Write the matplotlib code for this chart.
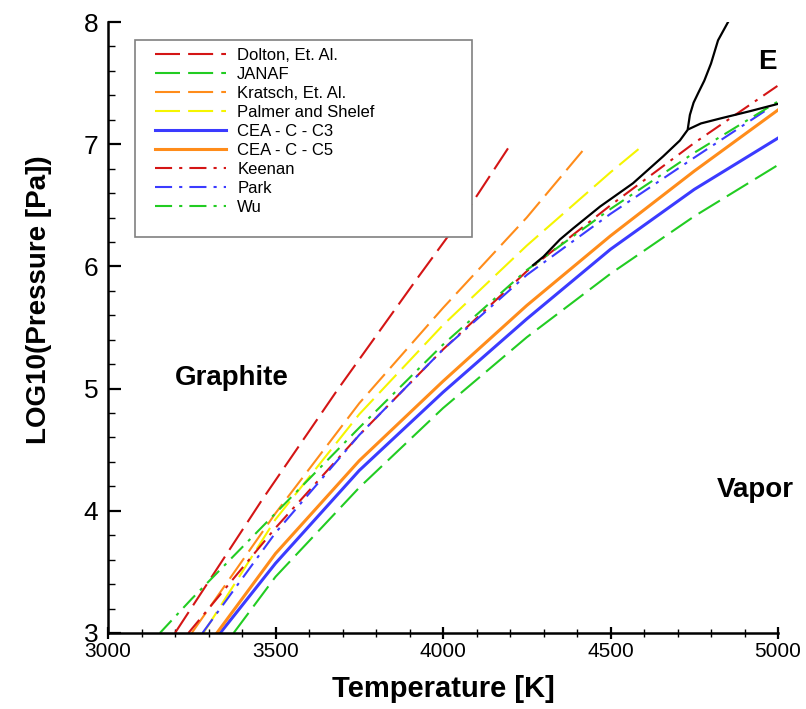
import numpy as np
import matplotlib
matplotlib.use('Agg')
from matplotlib import pyplot as plt
from matplotlib.patches import Rectangle

plt.rcParams['font.family'] = ['Liberation Sans', 'DejaVu Sans']

# vapor pressure curves, log10(P [Pa]) vs T [K]
dolton_T = [3200, 3460, 3685, 3920, 4080, 4195]
dolton_p = [3.0, 4.09, 4.99, 5.89, 6.49, 6.97]

janaf_T = [3375, 3500, 3750, 4000, 4250, 4500, 4750, 5000]
janaf_p = [3.0, 3.46, 4.19, 4.84, 5.42, 5.94, 6.41, 6.83]

kratsch_T = [3250, 3500, 3750, 4000, 4250, 4418]
kratsch_p = [3.0, 3.98, 4.88, 5.66, 6.40, 6.95]

palmer_T = [3285, 3500, 3750, 4000, 4250, 4500, 4597]
palmer_p = [3.0, 3.93, 4.79, 5.52, 6.17, 6.77, 6.99]

cea3_T = [3335, 3500, 3750, 4000, 4250, 4500, 4750, 5000]
cea3_p = [3.0, 3.57, 4.33, 4.97, 5.57, 6.14, 6.63, 7.05]

cea5_T = [3325, 3500, 3750, 4000, 4250, 4500, 4750, 5000]
cea5_p = [3.0, 3.65, 4.41, 5.06, 5.68, 6.25, 6.78, 7.28]

keenan_T = [3240, 3500, 3750, 4000, 4250, 4500, 4750, 5000]
keenan_p = [3.0, 3.86, 4.62, 5.32, 5.96, 6.50, 7.01, 7.48]

park_T = [3282, 3500, 3750, 4000, 4250, 4500, 4750, 4960]
park_p = [3.0, 3.82, 4.62, 5.32, 5.93, 6.43, 6.89, 7.27]

wu_T = [3155, 3250, 3500, 3750, 4000, 4250, 4500, 4750, 5000]
wu_p = [3.0, 3.28, 3.98, 4.68, 5.36, 5.97, 6.47, 6.93, 7.35]

# phase boundary (black) and its upper branch
bound_T = [4269, 4300, 4349, 4388, 4469, 4567, 4657, 4707, 4731, 4770, 4827, 4916, 5000]
bound_p = [6.01, 6.08, 6.22, 6.31, 6.49, 6.68, 6.90, 7.03, 7.12, 7.17, 7.21, 7.27, 7.33]
branch_T = [4731, 4737, 4748, 4762, 4780, 4800, 4821, 4851]
branch_p = [7.13, 7.24, 7.34, 7.42, 7.52, 7.66, 7.85, 8.0]

dash = (12, 3.9)
dashdot = (8.2, 3.4, 1.5, 3.4)

series = [
    ('Dolton, Et. Al.', dolton_T, dolton_p, '#d41515', dash),
    ('JANAF', janaf_T, janaf_p, '#22cc22', dash),
    ('Kratsch, Et. Al.', kratsch_T, kratsch_p, '#ff8c1a', dash),
    ('Palmer and Shelef', palmer_T, palmer_p, '#f5f500', dash),
    ('CEA - C - C3', cea3_T, cea3_p, '#3b3bff', None),
    ('CEA - C - C5', cea5_T, cea5_p, '#ff8c1a', None),
    ('Keenan', keenan_T, keenan_p, '#d41515', dashdot),
    ('Park', park_T, park_p, '#3b3bff', dashdot),
    ('Wu', wu_T, wu_p, '#22cc22', dashdot),
]

fig = plt.figure(figsize=(8.06, 7.09), dpi=100)
ax = fig.add_axes([108/806, 1-633/709, 670/806, 611/709])

handles = []
for label, T, p, color, pattern in series:
    if pattern is None:
        ln, = ax.plot(T, p, color=color, lw=2.2, label=label)
    else:
        ln, = ax.plot(T, p, color=color, lw=1.5, label=label)
        ln.set_dashes(pattern)
    handles.append(ln)

ax.plot(bound_T, bound_p, color='black', lw=1.6)
ax.plot(branch_T, branch_p, color='black', lw=1.6)

ax.set_xlim(3000, 5000)
ax.set_ylim(3, 8)
ax.set_xticks([3000, 3500, 4000, 4500, 5000])
ax.set_yticks([3, 4, 5, 6, 7, 8])
ax.set_xticks(np.arange(3000, 5001, 100), minor=True)
ax.set_yticks(np.arange(3, 8.01, 0.2), minor=True)

for side in ['top', 'right']:
    ax.spines[side].set_visible(False)
for side in ['left', 'bottom']:
    ax.spines[side].set_linewidth(1.8)

ax.tick_params(axis='y', which='major', direction='in', length=9, width=1.6, labelsize=19, pad=7)
ax.tick_params(axis='y', which='minor', direction='in', length=5, width=1.0)
ax.tick_params(axis='x', which='major', direction='inout', length=9, width=1.6, labelsize=15, pad=2)
ax.tick_params(axis='x', which='minor', direction='inout', length=6, width=1.0)

ax.set_xlabel('Temperature [K]', fontsize=21, fontweight='bold')
ax.set_ylabel('LOG10(Pressure [Pa])', fontsize=20, fontweight='bold')
ax.xaxis.set_label_coords(0.5, -0.068)
ax.yaxis.set_label_coords(-0.084, 0.545)

ax.text(3370, 5.09, 'Graphite', fontsize=20, fontweight='bold', ha='center', va='center')
ax.text(4931, 4.17, 'Vapor', fontsize=20, fontweight='bold', ha='center', va='center')
ax.text(4967, 7.67, 'E', fontsize=20, fontweight='bold', ha='center', va='center')

# legend box
ax.add_patch(Rectangle((0.040, 0.648), 0.503, 0.3225, transform=ax.transAxes,
                       facecolor='white', edgecolor='#808080', lw=1.2, zorder=4))
leg = ax.legend(handles=handles, loc='upper left', bbox_to_anchor=(0.058, 0.971),
                frameon=False, fontsize=12, handlelength=4.26, handletextpad=0.66,
                labelspacing=0.24, borderpad=0)
leg.set_zorder(5)

fig.savefig('out.png', dpi=100)
